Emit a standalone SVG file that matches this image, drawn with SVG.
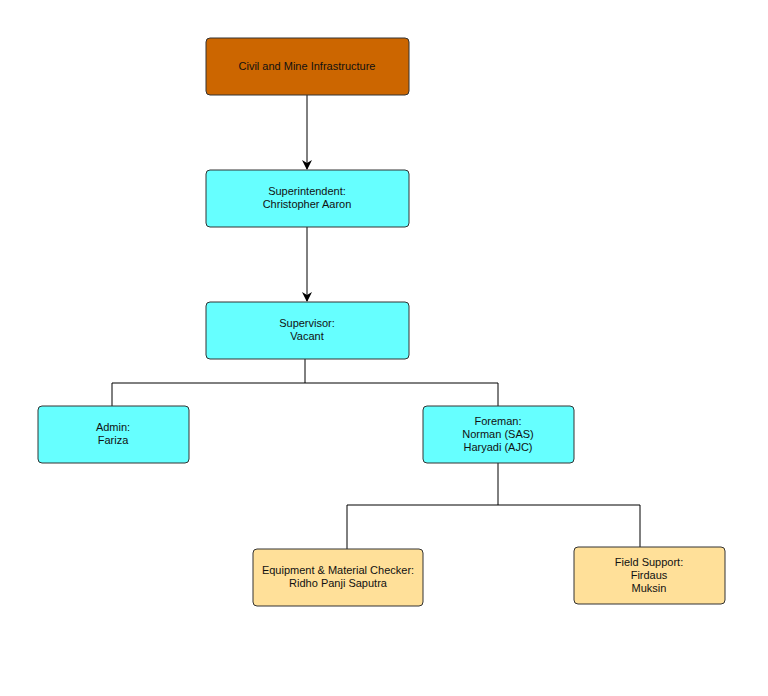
<svg xmlns="http://www.w3.org/2000/svg" width="768" height="696" viewBox="0 0 768 696">
<style>
.n{stroke:#333;stroke-width:1}
.t{font-family:"Liberation Sans",Arial,sans-serif;font-size:11px;fill:#111;text-anchor:middle}
.c{fill:none;stroke:#000;stroke-width:1}
</style>
<defs><marker id="a" markerWidth="10" markerHeight="10" refX="9" refY="5" orient="auto" markerUnits="userSpaceOnUse"><path d="M0,0 L10,5 L0,10 L3,5 z" fill="#000"/></marker></defs>
<rect width="768" height="696" fill="#fff"/>
<g id="connectors">
<path class="c" d="M307,95 V169" marker-end="url(#a)"/>
<path class="c" d="M307,227 V301" marker-end="url(#a)"/>
<path class="c" d="M305,359 V383 H112 V406 M305,383 H498 V406"/>
<path class="c" d="M498,463 V505 H347 V549 M498,505 H640 V547"/>
</g>
<g id="civil"><rect class="n" x="206" y="38" width="203" height="57" rx="4" fill="#CC6600"/><text class="t" x="307" y="70">Civil and Mine Infrastructure</text></g>
<g id="superintendent"><rect class="n" x="206" y="170" width="203" height="57" rx="4" fill="#66FFFF"/><text class="t" x="307" y="195">Superintendent:</text><text class="t" x="307" y="208">Christopher Aaron</text></g>
<g id="supervisor"><rect class="n" x="206" y="302" width="203" height="57" rx="4" fill="#66FFFF"/><text class="t" x="307" y="327">Supervisor:</text><text class="t" x="307" y="340">Vacant</text></g>
<g id="admin"><rect class="n" x="38" y="406" width="151" height="57" rx="4" fill="#66FFFF"/><text class="t" x="113" y="431">Admin:</text><text class="t" x="113" y="444">Fariza</text></g>
<g id="foreman"><rect class="n" x="423" y="406" width="151" height="57" rx="4" fill="#66FFFF"/><text class="t" x="498" y="425">Foreman:</text><text class="t" x="498" y="438">Norman (SAS)</text><text class="t" x="498" y="451">Haryadi (AJC)</text></g>
<g id="equipment"><rect class="n" x="253" y="549" width="170" height="57" rx="4" fill="#FFE099"/><text class="t" x="338" y="574">Equipment &amp; Material Checker:</text><text class="t" x="338" y="587">Ridho Panji Saputra</text></g>
<g id="field"><rect class="n" x="574" y="547" width="151" height="57" rx="4" fill="#FFE099"/><text class="t" x="649" y="566">Field Support:</text><text class="t" x="649" y="579">Firdaus</text><text class="t" x="649" y="592">Muksin</text></g>
</svg>
